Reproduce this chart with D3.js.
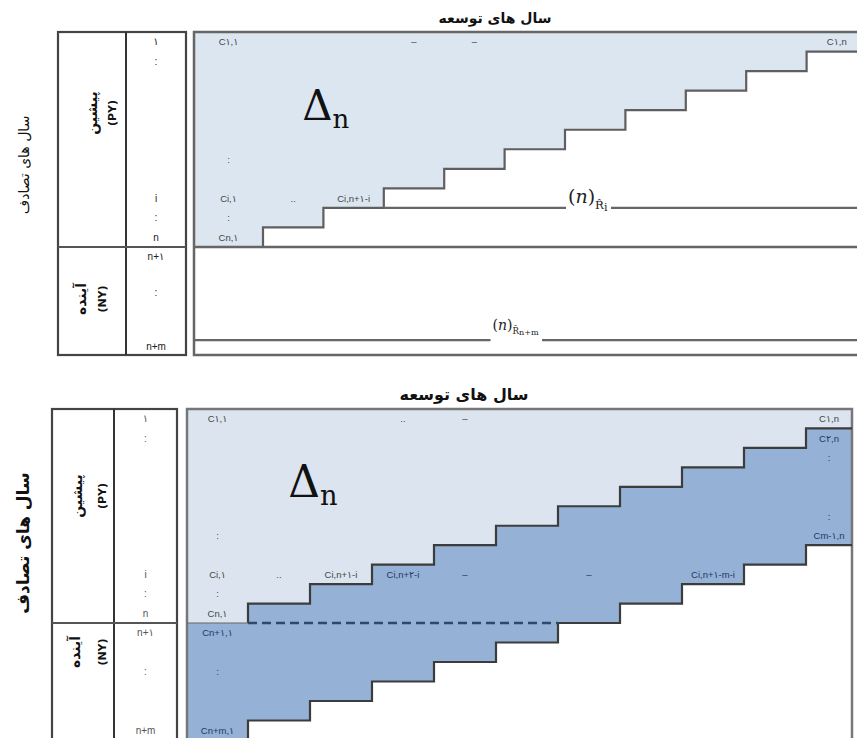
<!DOCTYPE html>
<html>
<head>
<meta charset="utf-8">
<script src="https://cdn.jsdelivr.net/npm/d3@7"></script>
<style>
  body { margin: 0; background: #fff; }
  svg { display: block; }
</style>
</head>
<body>
<div id="container"></div>
<script>
const W = 857, H = 738;

// accident-year index labels (left column) and the row they sit in
const rowLabels = ["۱", ":", "i", ":", "n", "n+۱", ":", "n+m"];
const rowLabelRows = [0, 1, 8, 9, 10, 11, 13, 16];

// last development column observed in each past accident row (the Δn triangle)
const knownCols = [11, 10, 9, 8, 7, 6, 5, 4, 3, 2, 1];
// last development column projected in each row, rows 0..16 (bottom chart)
const projCols = [11, 11, 11, 11, 11, 11, 11, 10, 9, 8, 7, 6, 5, 4, 3, 2, 1];

// cell texts, top chart
const topCellText = ["C۱,۱", "–", "–", "C۱,n", ":", "Ci,۱", "..", "Ci,n+۱-i", ":", "Cn,۱"];
const topCellRow  = [0, 0, 0, 0, 6, 8, 8, 8, 9, 10];
const topCellCol  = [0, 3, 4, 10, 0, 0, 1, 2, 0, 0];

// cell texts, bottom chart
const botCellText = ["C۱,۱", "..", "–", "C۱,n", "C۲,n", ":", ":", "Cm-۱,n", ":",
                     "Ci,۱", "..", "Ci,n+۱-i", "Ci,n+۲-i", "–", "–", "Ci,n+۱-m-i",
                     ":", "Cn,۱", "Cn+۱,۱", ":", "Cn+m,۱"];
const botCellRow  = [0, 0, 0, 0, 1, 2, 5, 6, 6, 8, 8, 8, 8, 8, 8, 8, 9, 10, 11, 13, 16];
const botCellCol  = [0, 3, 4, 10, 10, 10, 10, 10, 0, 0, 1, 2, 3, 4, 6, 8, 0, 0, 0, 0, 0];

const titleText = "سال های توسعه";
const sideText = "سال های تصادف";
const pastText = "پیشین", pastCode = "(PY)";
const futText = "آینده", futCode = "(NY)";

let svg = d3.select("#container")
  .append("svg")
    .attr("width", W)
    .attr("height", H)
;

const topPanel = {
  left: 194, right: 872,
  x: d3.scaleLinear().domain([1, 11]).range([263, 867]),
  y: d3.scaleLinear().domain([0, 11, 17]).range([32, 247, 355]),
  labL: 58, labM: 126, labR: 186,
  known: knownCols, proj: null,
  cellText: topCellText, cellRow: topCellRow, cellCol: topCellCol,
  light: "#dce6f1", line: "#5f5f5f", idxColor: "#222", cellSize: 9.5,
  title: { x: 495, y: 23, size: 14 },
  side: { x: 24, y: 165, size: 14, weight: "normal" },
  past: { x: 92, y: 113, cx: 112 },
  fut: { x: 81, y: 299, cx: 102 },
  delta: { c: 1.65, r: 4.5, size: 42 }
};

const botPanel = {
  left: 187, right: 852,
  x: d3.scaleLinear().domain([1, 11]).range([248, 868]),
  y: d3.scaleLinear().domain([0, 11, 17]).range([409, 623, 740]),
  labL: 52, labM: 114, labR: 177,
  known: knownCols, proj: projCols,
  cellText: botCellText, cellRow: botCellRow, cellCol: botCellCol,
  light: "#dbe4ef", dark: "#95b1d6", line: "#3c3c3c", idxColor: "#555", cellSize: 9.5,
  title: { x: 464, y: 400, size: 16 },
  side: { x: 23, y: 543, size: 17, weight: "bold" },
  past: { x: 77, y: 496, cx: 102 },
  fut: { x: 75, y: 652, cx: 102 },
  delta: { c: 1.65, r: 4.5, size: 44 }
};

function drawPanel(p){
  let g = svg.append("g");
  let edge = k => k <= 0 ? p.left : Math.min(p.x(k), p.right);
  let knownAt = r => r < p.known.length ? p.known[r] : 0;
  let colCenter = c => (edge(c) + edge(c + 1)) / 2;
  let line = d3.line();

  // light triangle (known claims)
  let pts = [[p.left, p.y(0)]];
  p.known.forEach((k, r) => { pts.push([edge(k), p.y(r)], [edge(k), p.y(r + 1)]); });
  pts.push([p.left, p.y(p.known.length)]);
  g.append("path").attr("d", line(pts) + "Z").attr("fill", p.light);

  // dark band (projected claims)
  if (p.proj){
    let dp = [];
    for (let r = 1; r < p.proj.length; r++){
      dp.push([edge(knownAt(r)), p.y(r)], [edge(knownAt(r)), p.y(r + 1)]);
    }
    for (let r = p.proj.length - 1; r >= 1; r--){
      dp.push([edge(p.proj[r]), p.y(r + 1)], [edge(p.proj[r]), p.y(r)]);
    }
    g.append("path").attr("d", line(dp) + "Z").attr("fill", p.dark);
  }

  // main frame
  g.append("rect")
    .attr("x", p.left).attr("y", p.y(0))
    .attr("width", p.right - p.left).attr("height", p.y(17) - p.y(0))
    .attr("fill", "none").attr("stroke", p.proj ? "#777" : "#666").attr("stroke-width", 2.5);

  // stair of known triangle
  let sp = [[p.right, p.y(1)]];
  for (let r = 1; r < p.known.length; r++){
    sp.push([edge(p.known[r]), p.y(r)], [edge(p.known[r]), p.y(r + 1)]);
  }
  g.append("path").attr("d", line(sp))
    .attr("fill", "none").attr("stroke", p.line).attr("stroke-width", 2.2);

  if (p.proj){
    let first = p.proj.findIndex(k => k < 11);
    let pp = [[p.right, p.y(first)]];
    for (let r = first; r < p.proj.length; r++){
      pp.push([edge(p.proj[r]), p.y(r)], [edge(p.proj[r]), p.y(r + 1)]);
    }
    g.append("path").attr("d", line(pp))
      .attr("fill", "none").attr("stroke", p.line).attr("stroke-width", 2.2);

    let kLast = p.known[p.known.length - 1];
    g.append("line")
      .attr("x1", p.left).attr("x2", edge(kLast))
      .attr("y1", p.y(11)).attr("y2", p.y(11))
      .attr("stroke", "#666").attr("stroke-width", 1.2);
    g.append("line")
      .attr("x1", edge(kLast)).attr("x2", edge(p.proj[11]))
      .attr("y1", p.y(11)).attr("y2", p.y(11))
      .attr("stroke", "#2d4a6e").attr("stroke-width", 2.5)
      .attr("stroke-dasharray", "9,5");
  } else {
    // PY / NY divider
    g.append("line")
      .attr("x1", p.left).attr("x2", p.right)
      .attr("y1", p.y(11)).attr("y2", p.y(11))
      .attr("stroke", "#666").attr("stroke-width", 2.5);
    // reserve lines with their labels
    drawReserve(g, p, p.x(6.05), p.y(8.75), p.y(9), edge(p.known[8]), "i", 19);
    drawReserve(g, p, p.x(4.8), p.y(15.6), p.y(16.17), p.left, "n+m", 14);
  }

  // label boxes
  g.append("rect")
    .attr("x", p.labL).attr("y", p.y(0))
    .attr("width", p.labR - p.labL).attr("height", p.y(17) - p.y(0))
    .attr("fill", "none").attr("stroke", "#444").attr("stroke-width", 2.2);
  g.append("line")
    .attr("x1", p.labM).attr("x2", p.labM).attr("y1", p.y(0)).attr("y2", p.y(17))
    .attr("stroke", "#333").attr("stroke-width", 2);
  g.append("line")
    .attr("x1", p.labL).attr("x2", p.labR).attr("y1", p.y(11)).attr("y2", p.y(11))
    .attr("stroke", "#555").attr("stroke-width", 2);

  // index labels
  g.selectAll(".idx").data(rowLabels).enter()
    .append("text")
      .attr("class", "idx")
      .attr("x", (p.labM + p.labR) / 2)
      .attr("y", (d, i) => p.y(rowLabelRows[i] + 0.5) + 3.5)
      .attr("text-anchor", "middle")
      .attr("font-family", "Liberation Sans, DejaVu Sans, sans-serif")
      .attr("font-size", 10)
      .attr("fill", p.idxColor)
      .text(d => d);

  // cell labels
  g.selectAll(".cell").data(p.cellText).enter()
    .append("text")
      .attr("class", "cell")
      .attr("x", (d, i) => colCenter(p.cellCol[i]))
      .attr("y", (d, i) => p.y(p.cellRow[i] + 0.5) + 3.5)
      .attr("text-anchor", "middle")
      .attr("font-family", "Liberation Sans, DejaVu Sans, sans-serif")
      .attr("font-size", p.cellSize)
      .attr("fill", (d, i) => {
        let r = p.cellRow[i], c = p.cellCol[i];
        return (p.proj && c >= knownAt(r)) ? "#1f3864" : "#444";
      })
      .text(d => d);

  // Δn
  let dt = g.append("text")
    .attr("x", p.x(p.delta.c)).attr("y", p.y(p.delta.r))
    .attr("font-family", "DejaVu Serif, Liberation Serif, serif")
    .attr("font-size", p.delta.size).attr("fill", "#111");
  dt.append("tspan").text("Δ");
  dt.append("tspan").attr("dy", 8).attr("font-size", p.delta.size * 0.62).text("n");

  // titles
  g.append("text")
    .attr("x", p.title.x).attr("y", p.title.y)
    .attr("text-anchor", "middle")
    .attr("font-family", "DejaVu Sans, sans-serif")
    .attr("font-weight", "bold").attr("font-size", p.title.size)
    .attr("fill", "#111")
    .text(titleText);

  g.append("text")
    .attr("transform", `translate(${p.side.x},${p.side.y}) rotate(-90)`)
    .attr("text-anchor", "middle").attr("dy", "0.35em")
    .attr("font-family", "DejaVu Sans, sans-serif")
    .attr("font-weight", p.side.weight).attr("font-size", p.side.size)
    .attr("fill", "#111")
    .text(sideText);

  rotLabel(g, p.past.x, p.past.y, pastText, 14);
  rotLabel(g, p.past.cx, p.past.y, pastCode, 11);
  rotLabel(g, p.fut.x, p.fut.y, futText, 14);
  rotLabel(g, p.fut.cx, p.fut.y, futCode, 11);
}

function rotLabel(g, x, y, txt, size){
  g.append("text")
    .attr("transform", `translate(${x},${y}) rotate(-90)`)
    .attr("text-anchor", "middle").attr("dy", "0.35em")
    .attr("font-family", "DejaVu Sans, sans-serif")
    .attr("font-weight", "bold").attr("font-size", size)
    .attr("fill", "#111")
    .text(txt);
}

function drawReserve(g, p, lx, ly, lineY, x0, sub, size){
  let t = g.append("text")
    .attr("x", lx).attr("y", ly)
    .attr("font-family", "DejaVu Serif, Liberation Serif, serif")
    .attr("fill", "#222");
  t.append("tspan").attr("font-size", size).text("(");
  t.append("tspan").attr("font-size", size).attr("font-style", "italic").text("n");
  t.append("tspan").attr("font-size", size).text(")");
  t.append("tspan").attr("font-size", size * 0.62).attr("dy", size * 0.3).text("R̂");
  t.append("tspan").attr("font-size", size * 0.58).attr("dy", size * 0.1).text(sub);
  let b = t.node().getBBox();
  [[x0, b.x - 2], [b.x + b.width + 3, p.right]].forEach(s => {
    g.append("line")
      .attr("x1", s[0]).attr("x2", s[1]).attr("y1", lineY).attr("y2", lineY)
      .attr("stroke", "#666").attr("stroke-width", 2.2);
  });
}

drawPanel(topPanel);
drawPanel(botPanel);
</script>
</body>
</html>
